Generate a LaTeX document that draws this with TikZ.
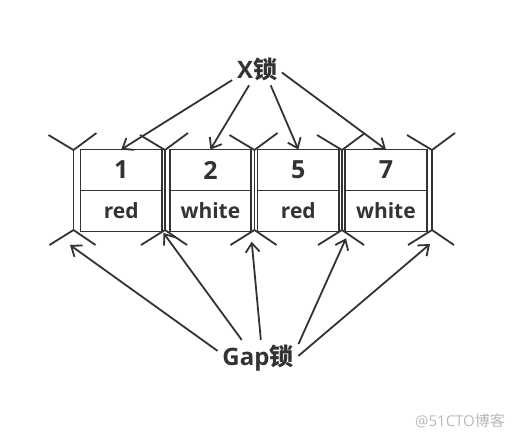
\documentclass[tikz,border=0pt]{standalone}
\usepackage{fontspec}
\setmainfont{Open Sans}
\newfontfamily\cjk{Noto Sans CJK SC}
\usetikzlibrary{positioning,arrows.meta}
\definecolor{ink}{HTML}{333333}
\tikzset{
    cell/.style={draw, minimum width=81.5pt, minimum height=41pt, outer sep=0pt, inner sep=0pt,
        font=\fontsize{21}{21}\selectfont\bfseries},
    lock/.style={inner sep=4pt, font=\fontsize{24}{24}\selectfont\bfseries},
    lockarrow/.style={-{Straight Barb[length=9pt,width=14pt]}}
}
\begin{document}
\begin{tikzpicture}[x=1pt, y=-1pt, line width=1.8pt, color=ink]
    \useasboundingbox (0,0) rectangle (518,440);
    % Records
    \node[cell] (k1) at (121.2,170) {\fontsize{25}{25}\selectfont 1};
    \node[cell] (k2) at (210.4,170) {\fontsize{25}{25}\selectfont 2};
    \node[cell] (k3) at (298.3,170) {\fontsize{25}{25}\selectfont 5};
    \node[cell] (k4) at (385.9,170) {\fontsize{25}{25}\selectfont 7};
    \node[cell, below=0pt of k1] (c1) {red};
    \node[cell, below=0pt of k2] (c2) {white};
    \node[cell, below=0pt of k3] (c3) {red};
    \node[cell, below=0pt of k4] (c4) {white};
    % Gaps
    \foreach \x [count=\i from 0] in {73.5,165,254.5,342,432}{
        \coordinate (gt\i) at (\x,150);
        \coordinate (gb\i) at (\x,230);
        \draw (gt\i) -- (gb\i);
        \draw (gt\i) -- ++(-25,-15) (gt\i) -- ++(23,-17);
        \draw (gb\i) -- ++(-24,15) (gb\i) -- ++(22,15);
    }
    % Arrow ends below the gaps
    \coordinate (gp0) at (70,245);
    \coordinate (gp1) at (163.5,233);
    \coordinate (gp2) at (251.7,241.7);
    \coordinate (gp3) at (346,238.3);
    \coordinate (gp4) at (430,244);
    % Locks
    \node[lock] (xlock) at (257,69) {X{\cjk 锁}};
    \node[lock] (gaplock) at (258,358) {Gap{\cjk 锁}};
    \draw[lockarrow] (xlock.204) -- (k1.north);
    \draw[lockarrow] (xlock.244) -- (k2.north);
    \draw[lockarrow] (xlock.310) -- (k3.north);
    \draw[lockarrow] (xlock.352) -- (k4.north);
    \draw[lockarrow] (gaplock.170) -- (gp0);
    \draw[lockarrow] (gaplock.132) -- (gp1);
    \draw[lockarrow] (gaplock.81) -- (gp2);
    \draw[lockarrow] (gaplock.19) -- (gp3);
    \draw[lockarrow] (gaplock.3) -- (gp4);
    % Watermark
    \node[text=gray!55, font=\fontsize{15}{15}\selectfont] (mark) at (460,421) {@51CTO{\cjk 博客}};
\end{tikzpicture}
\end{document}
